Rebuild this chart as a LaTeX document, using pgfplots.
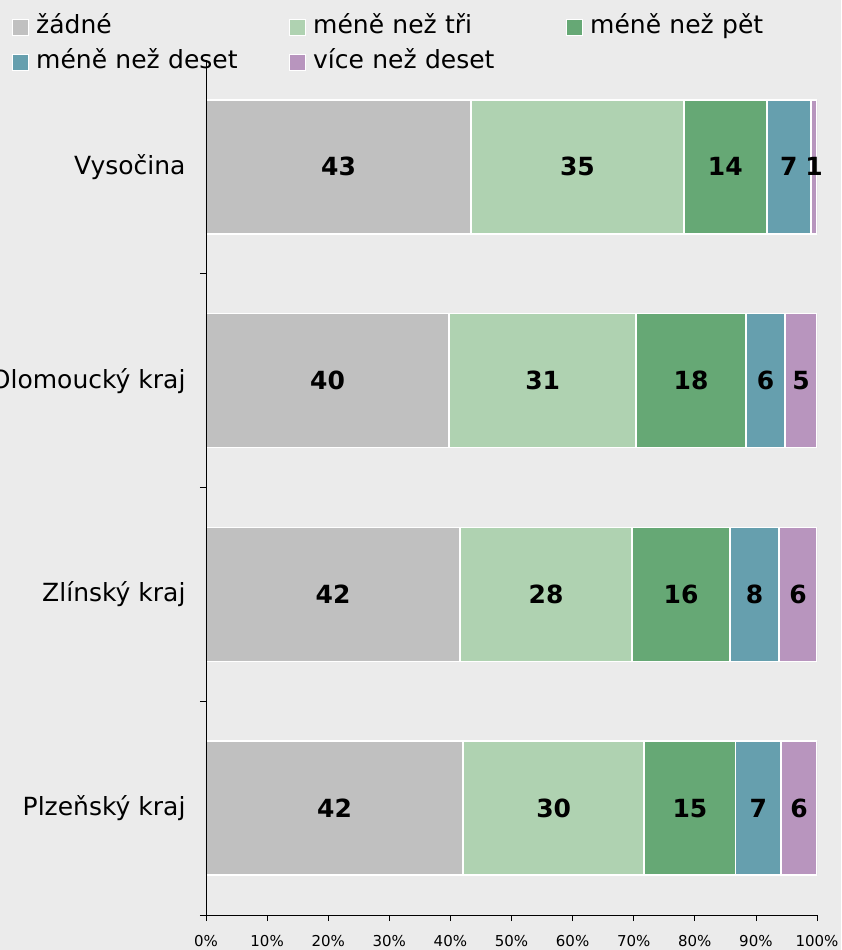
\documentclass[border=0pt]{standalone}
\usepackage{pgfplots}
\pgfplotsset{compat=1.18}
\usepackage{fontspec}
\setmainfont{DejaVu Sans}

\definecolor{bg}{RGB}{235,235,235}
\definecolor{cnone}{RGB}{192,192,192}
\definecolor{cthree}{RGB}{175,210,177}
\definecolor{cfive}{RGB}{102,168,117}
\definecolor{cten}{RGB}{102,159,174}
\definecolor{cmore}{RGB}{184,149,190}

\begin{document}
\begin{tikzpicture}
\fill[bg] (-206pt,-35pt) rectangle (635pt,915pt);
\begin{axis}[
    at={(0pt,0pt)}, anchor=south west,
    scale only axis, width=611pt, height=855pt,
    axis on top,
    xbar stacked, bar width=0.627,
    xmin=0, xmax=100, ymin=-0.5, ymax=3.5,
    axis x line*=bottom, axis y line*=left,
    axis line style={black, line width=0.8pt, -},
    tick align=outside,
    major tick length=6pt,
    xtick={0,10,...,100},
    xticklabel={\pgfmathprintnumber{\tick}\%},
    xticklabel style={font=\fontsize{15}{18}\selectfont, yshift=-11pt},
    x tick style={black, line width=0.8pt},
    ytick={0,1,2,3},
    yticklabels={Plzeňský kraj, Zlínský kraj, Olomoucký kraj, Vysočina},
    yticklabel style={font=\fontsize{25}{29}\selectfont, xshift=-11pt},
    y tick style={draw=none},
    extra y ticks={-0.5,0.5,1.5,2.5},
    extra y tick labels={},
    extra y tick style={y tick style={draw=black, line width=0.8pt}},
    /pgf/number format/assume math mode=true,
    every axis plot/.append style={draw=white, line width=1.5pt},
    point meta=explicit,
    nodes near coords,
    every node near coord/.append style={anchor=center, black,
        font=\fontsize{25}{29}\selectfont\bfseries},
    legend columns=3,
    legend cell align=left,
    legend image code/.code={\draw[#1, line width=1pt] (0pt,-8pt) rectangle (16pt,8pt);},
    legend style={draw=none, fill=none, inner sep=0pt,
        at={([xshift=-194pt,yshift=45pt]axis description cs:0,1)}, anchor=north west,
        font=\fontsize{25}{29}\selectfont,
        row sep=11pt,
        /tikz/every odd column/.append style={column sep=7pt},
        /tikz/every even column/.append style={column sep=13pt},
        nodes={text width=240pt, inner sep=0pt, text height=18pt, text depth=6pt}},
]
\addplot[fill=cnone] coordinates {(42.1,0) [42] (41.6,1) [42] (39.8,2) [40] (43.4,3) [43]};
\addplot[fill=cthree] coordinates {(29.6,0) [30] (28.1,1) [28] (30.6,2) [31] (34.8,3) [35]};
\addplot[fill=cfive] coordinates {(15.0,0) [15] (16.1,1) [16] (18.0,2) [18] (13.6,3) [14]};
\addplot[fill=cten] coordinates {(7.4,0) [7] (8.0,1) [8] (6.4,2) [6] (7.2,3) [7]};
\addplot[fill=cmore] coordinates {(5.9,0) [6] (6.2,1) [6] (5.2,2) [5] (1.0,3) [1]};
\legend{žádné, méně než tři, méně než pět, méně než deset, více než deset}
\end{axis}
\pgfresetboundingbox
\path[use as bounding box] (-206pt,-35pt) rectangle (635pt,915pt);
\end{tikzpicture}
\end{document}
